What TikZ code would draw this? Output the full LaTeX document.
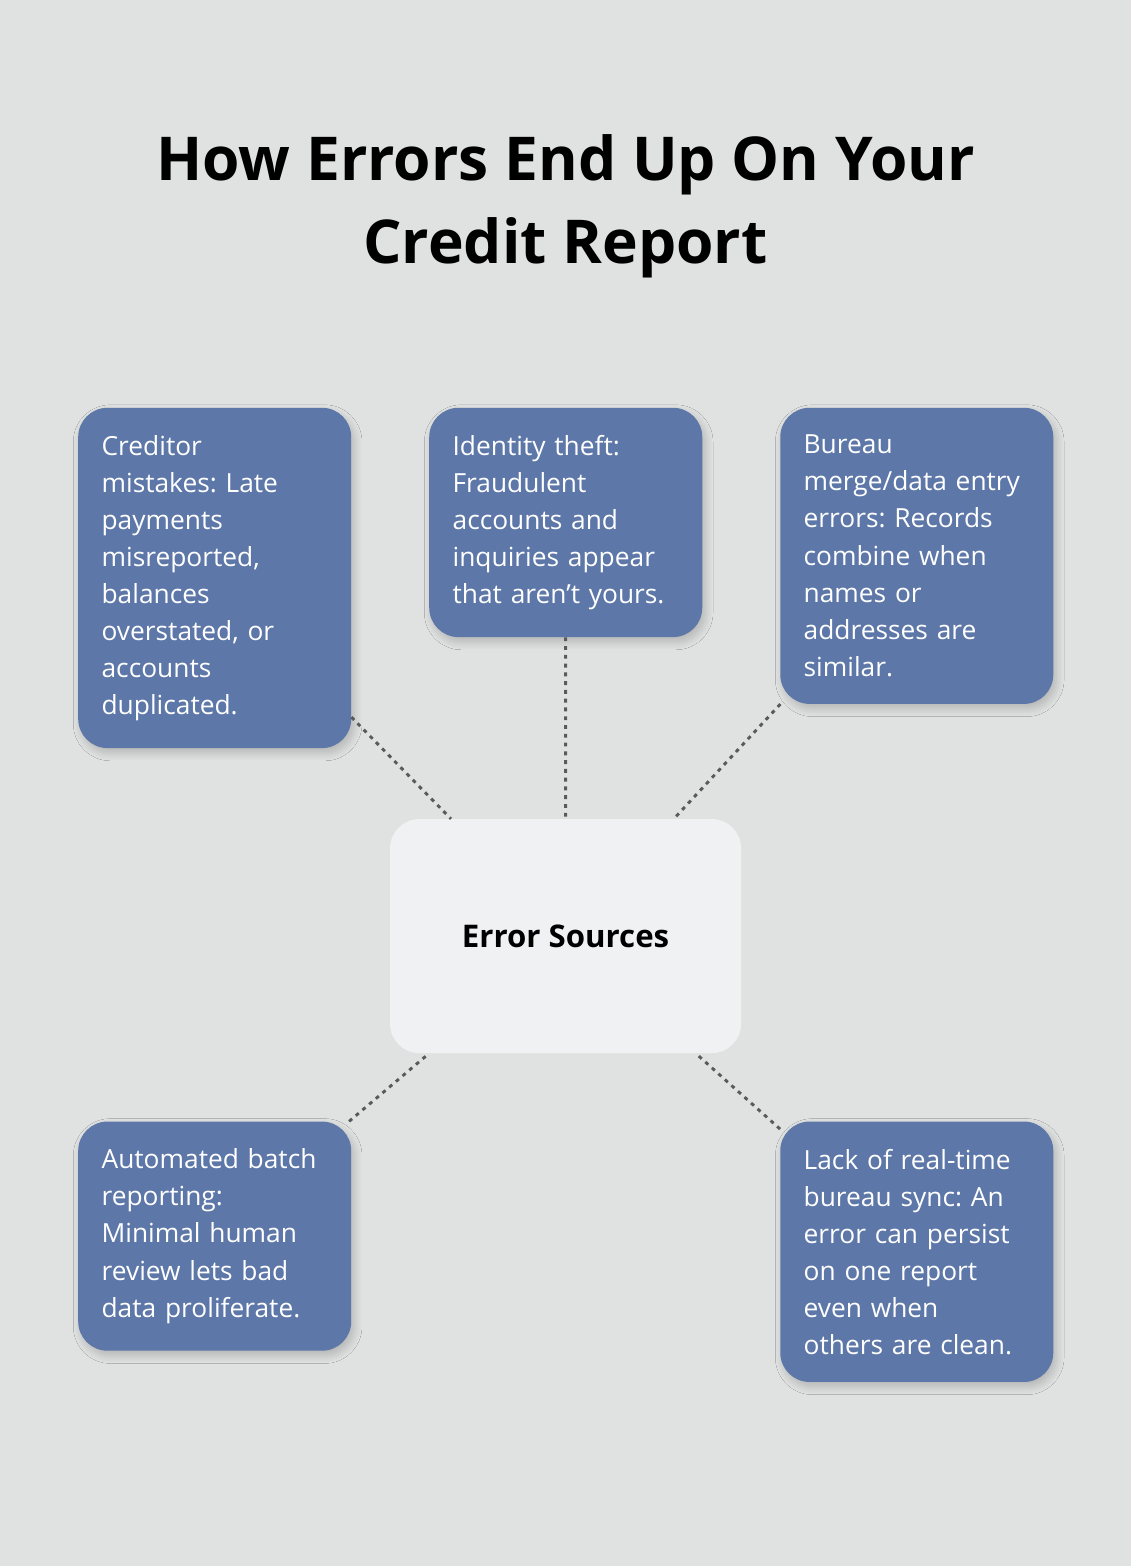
\documentclass[tikz,border=0pt]{standalone}
\usepackage{fontspec}
\setmainfont{Open Sans}
\frenchspacing
\usetikzlibrary{shadows.blur}
\definecolor{bg}{HTML}{E0E2E1}
\definecolor{boxblue}{HTML}{5D77A8}
\definecolor{hubfill}{HTML}{F0F1F3}
\definecolor{linkgray}{HTML}{5A5A5A}

\begin{document}
\begin{tikzpicture}[x=1pt, y=-1pt,
    cause/.style={fill=boxblue, text=white, rounded corners=30pt, anchor=north west,
        text width=232pt, align=left, inner xsep=24pt, inner ysep=28pt,
        font=\fontsize{27}{38}\selectfont, blur shadow={shadow blur steps=10, shadow blur radius=8pt, shadow xshift=3pt, shadow yshift=-5pt, shadow opacity=20}},
    hub/.style={fill=hubfill, rounded corners=30pt, minimum width=360pt, minimum height=240pt,
        font=\fontsize{32}{38}\selectfont\bfseries},
    link/.style={draw=linkgray, line width=3pt, dash pattern=on 4pt off 5pt}]
	\fill [bg] (-20,-20) rectangle (1140,1586);
	\useasboundingbox (0,0) rectangle (1120,1566);

	\node [font=\fontsize{62}{85}\selectfont\bfseries, align=center] (title) at (560,192)
		{How Errors End Up On Your\\Credit Report};

	\node [hub] (hub) at (560,940) {Error Sources};

	\node [cause] (creditor) at (60,398) {Creditor\\mistakes: Late\\payments\\misreported,\\balances\\overstated, or\\accounts\\duplicated.};
	\node [cause] (theft) at (420,398) {Identity theft:\\Fraudulent\\accounts and\\inquiries appear\\that aren’t yours.};
	\node [cause] (bureau) at (780,398) {Bureau\\merge/data entry\\errors: Records\\combine when\\names or\\addresses are\\similar.};
	\node [cause] (batch) at (60,1130) {Automated batch\\reporting:\\Minimal human\\review lets bad\\data proliferate.};
	\node [cause] (sync) at (780,1130) {Lack of real-time\\bureau sync: An\\error can persist\\on one report\\even when\\others are clean.};

	% dotted links to the hub
	\draw [link] (creditor) -- (hub);
	\draw [link] (theft) -- (hub);
	\draw [link] (bureau) -- (hub);
	\draw [link] (batch) -- (hub);
	\draw [link] (sync) -- (hub);
\end{tikzpicture}
\end{document}
